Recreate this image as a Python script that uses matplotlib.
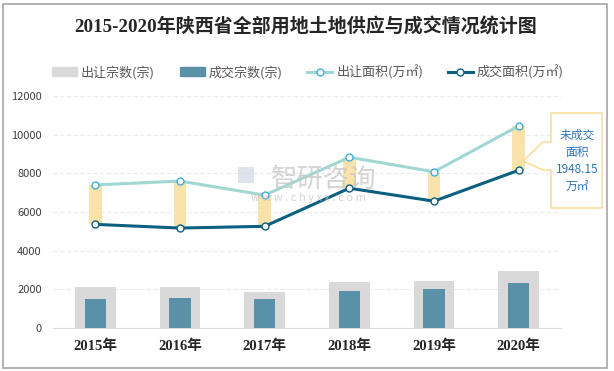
import matplotlib.pyplot as plt
import numpy as np
from matplotlib.lines import Line2D
from matplotlib.patches import Patch, Polygon, Rectangle

plt.rcParams["font.family"] = ["Noto Sans CJK SC", "DejaVu Sans"]

years = ["2015年", "2016年", "2017年", "2018年", "2019年", "2020年"]
supply_count = [2130, 2130, 1860, 2380, 2430, 2950]   # 出让宗数(宗)
deal_count = [1500, 1550, 1500, 1910, 2020, 2330]     # 成交宗数(宗)
supply_area = [7400, 7600, 6870, 8830, 8080, 10450]   # 出让面积(万㎡)
deal_area = [5360, 5170, 5260, 7230, 6560, 8160]      # 成交面积(万㎡)
callout_text = "未成交\n面积\n1948.15\n万㎡"

W, H = 614, 371
fig = plt.figure(figsize=(W / 100, H / 100), dpi=100)
ax = fig.add_axes([53 / W, 1 - 328 / H, 508 / W, 232 / H])

x = np.arange(len(years))
gap = np.array(supply_area) - np.array(deal_area)

ax.bar(x, supply_count, width=0.48, color="#D9D9D9", zorder=2)
ax.bar(x, deal_count, width=0.25, color="#5B91A8", zorder=3)
ax.bar(x, gap, bottom=deal_area, width=0.15, color="#F9E3AA", zorder=3)
ax.plot(x, supply_area, color="#A0D7D3", lw=2.2, marker="o", ms=5,
        mfc="white", mec="#3FAEDD", mew=1, zorder=4)
ax.plot(x, deal_area, color="#0B5F80", lw=2.2, marker="o", ms=5,
        mfc="white", mec="#0B5F80", mew=1, zorder=4)

ax.set_xlim(-0.5, len(years) - 0.5)
ax.set_ylim(0, 12000)
ax.set_yticks(range(0, 12001, 2000))
ax.tick_params(axis="y", length=0, labelsize=8, labelcolor="#404040", pad=8)
ax.set_xticks(x)
ax.set_xticklabels(years)
ax.tick_params(axis="x", length=0, pad=8)
for lbl in ax.get_xticklabels():
    lbl.set_family(["Liberation Serif", "Noto Sans CJK SC"])
    lbl.set_fontweight("bold")
    lbl.set_fontsize(10.5)
    lbl.set_color("#262626")
ax.grid(axis="y", color="#EBEBEB", lw=0.8, ls=(0, (4, 2)), zorder=0)
for s in ["left", "right", "top"]:
    ax.spines[s].set_visible(False)
ax.spines["bottom"].set_color("#D9D9D9")

# watermark
fig.text(324 / W, 1 - 179 / H, "智研咨询", fontsize=19, color="#C8C8C8",
         ha="center", va="center", alpha=0.8, zorder=0)
fig.text(308 / W, 1 - 198 / H, "w w w . c h y x x . c o m", fontsize=8,
         color="#C8C8C8", ha="center", va="center", alpha=0.8)
fig.patches.append(Rectangle((238 / W, 1 - 183 / H), 16 / W, 16 / H,
                             transform=fig.transFigure, fc="#D5DCE8",
                             ec="none", alpha=0.8))

# callout
pts = [(551, 113), (602, 113), (602, 208), (551, 208), (551, 170), (543, 170),
       (523, 161), (543, 142), (551, 142)]
fig.patches.append(Polygon([(px / W, 1 - py / H) for px, py in pts], closed=True,
                           transform=fig.transFigure, fc="white",
                           ec="#F9D98A", lw=1, zorder=5))
fig.text(577 / W, 1 - 161 / H, callout_text, fontsize=8.5, color="#2E75B6",
         ha="center", va="center", linespacing=1.4, zorder=6)

fig.text(306 / W, 1 - 27 / H, "2015-2020年陕西省全部用地土地供应与成交情况统计图",
         family=["Liberation Serif", "Noto Sans CJK SC"], fontweight="bold",
         fontsize=13.7, color="#262626", ha="center", va="center")

handles = [
    Patch(color="#D9D9D9", label="出让宗数(宗)"),
    Patch(color="#5B91A8", label="成交宗数(宗)"),
    Line2D([], [], color="#A0D7D3", lw=2.2, marker="o", ms=5, mfc="white",
           mec="#3FAEDD", label="出让面积(万㎡)"),
    Line2D([], [], color="#0B5F80", lw=2.2, marker="o", ms=5, mfc="white",
           mec="#0B5F80", label="成交面积(万㎡)"),
]
fig.legend(handles=handles, loc="center", bbox_to_anchor=(308 / W, 1 - 72 / H),
           ncol=4, frameon=False, fontsize=9.4, labelcolor="#595959",
           handlelength=1.9, handleheight=0.6, columnspacing=1.9,
           handletextpad=0.3)

fig.patches.append(Rectangle((3 / W, 3 / H), 604 / W, 364 / H,
                             transform=fig.transFigure, fill=False,
                             ec="#A6A6A6", lw=1.2))
fig.savefig("out.png", dpi=100)
